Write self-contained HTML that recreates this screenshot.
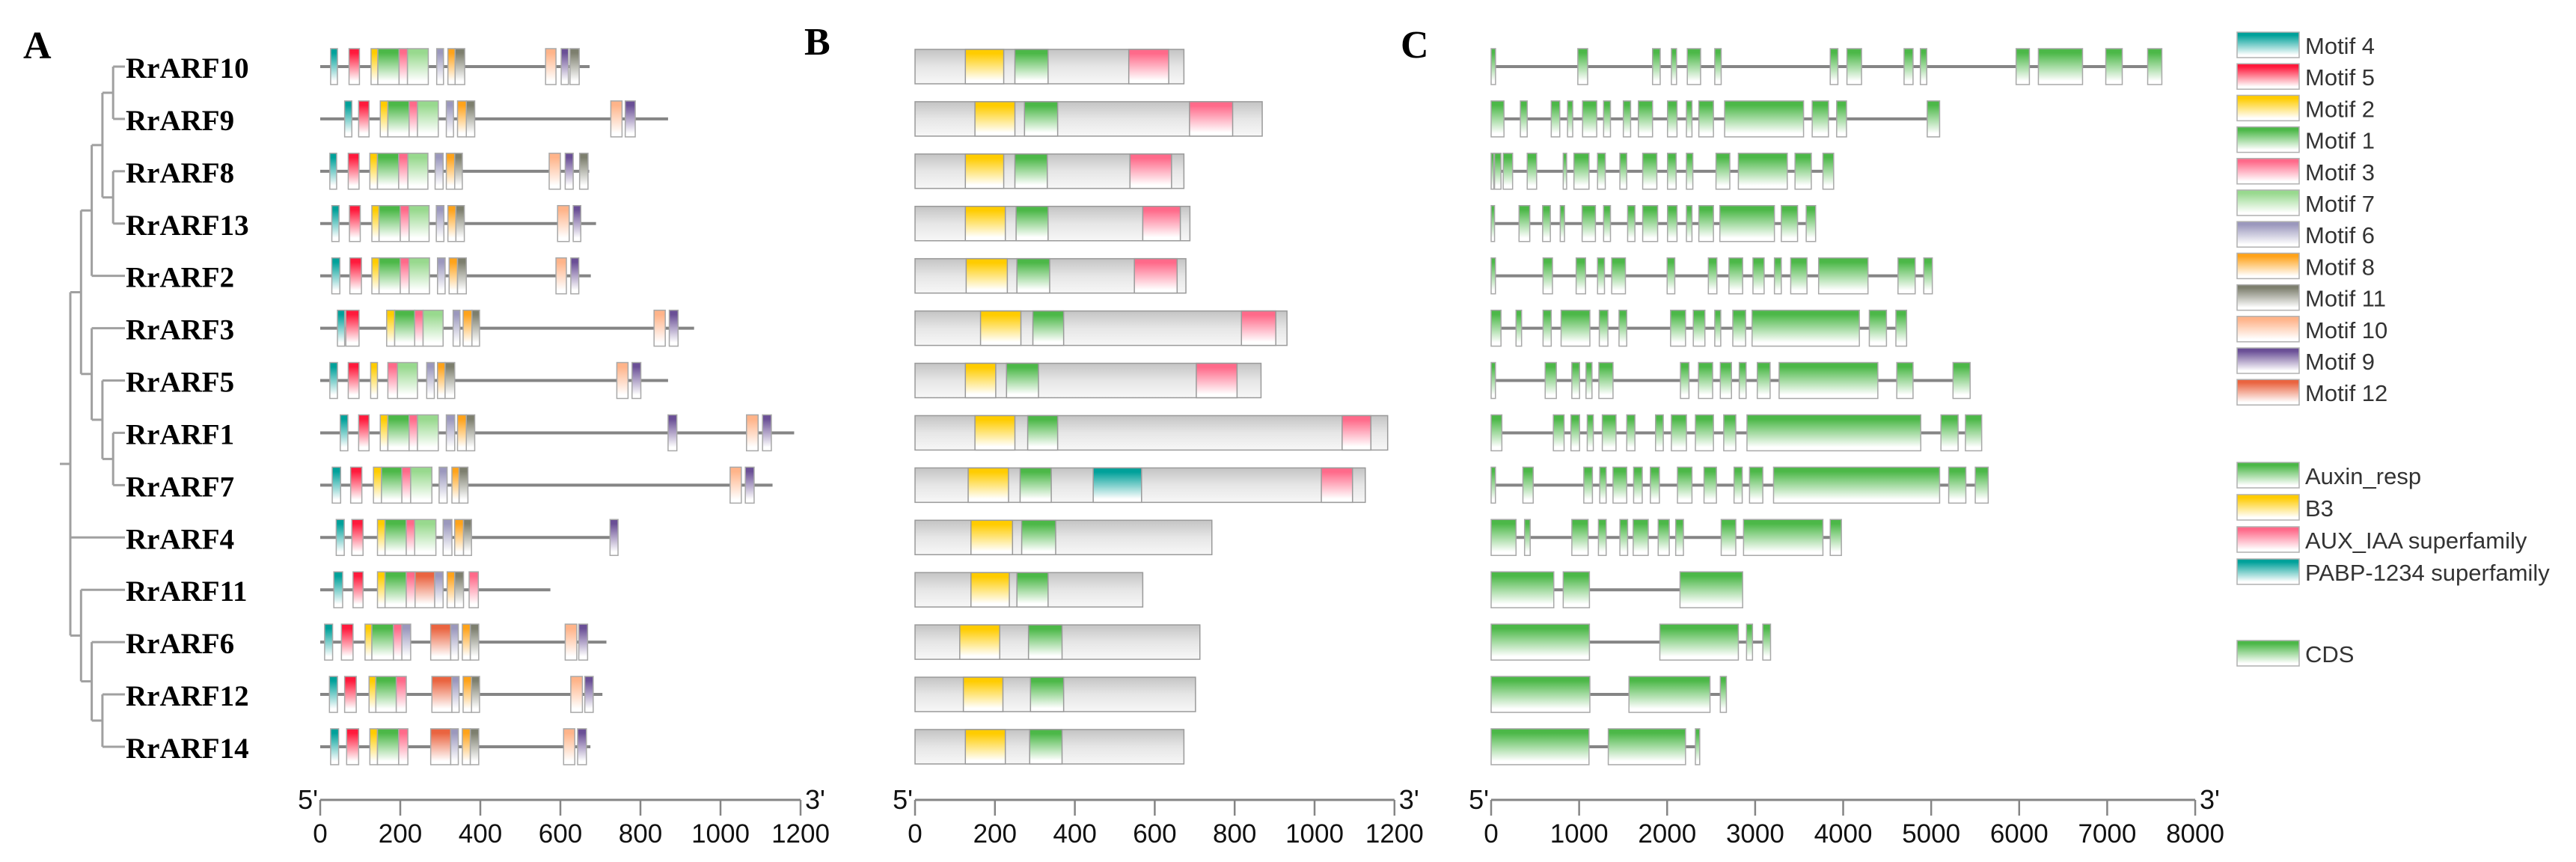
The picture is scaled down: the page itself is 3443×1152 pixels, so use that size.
<!DOCTYPE html>
<html><head><meta charset="utf-8">
<style>
html,body{margin:0;padding:0;background:#fff;}
svg{display:block;}
</style></head>
<body>
<svg id="fig" xmlns="http://www.w3.org/2000/svg" width="3443" height="1152" viewBox="0 0 3443 1152">
<defs id="defs"></defs>
<rect x="0" y="0" width="3443" height="1152" fill="#fff"/>
<g id="tree"></g>
<g id="labels"></g>
<g id="panelA"></g>
<g id="panelB"></g>
<g id="panelC"></g>
<g id="axes"></g>
<g id="legend"></g>
<text x="31" y="78" font-family="Liberation Serif, serif" font-weight="bold" font-size="52">A</text>
<text x="1075" y="73" font-family="Liberation Serif, serif" font-weight="bold" font-size="52">B</text>
<text x="1872" y="77" font-family="Liberation Serif, serif" font-weight="bold" font-size="52">C</text>
</svg>
<script>
// ---------- data ----------
const genes = ["RrARF10","RrARF9","RrARF8","RrARF13","RrARF2","RrARF3","RrARF5","RrARF1","RrARF7","RrARF4","RrARF11","RrARF6","RrARF12","RrARF14"];
const proteinLengths = [673,869,672,689,676,934,869,1184,1130,744,575,715,705,675];
const motifs = [
 [[4,26,43],[5,72,98],[2,127,144],[1,144,197],[3,197,218],[7,218,270],[6,291,308],[8,319,337],[11,337,361],[10,563,589],[9,602,620],[11,624,647]],
 [[4,61,79],[5,96,122],[2,150,169],[1,169,222],[3,222,243],[7,243,295],[6,315,333],[8,343,365],[11,365,386],[10,726,754],[9,762,787]],
 [[4,24,41],[5,70,97],[2,124,143],[1,143,196],[3,196,219],[7,219,269],[6,287,307],[8,315,336],[11,336,355],[10,572,600],[9,612,632],[11,648,669]],
 [[4,29,47],[5,73,100],[2,129,147],[1,147,200],[3,200,222],[7,222,272],[6,290,309],[8,319,339],[11,339,360],[10,593,622],[9,632,651]],
 [[4,29,49],[5,74,103],[2,129,147],[1,147,200],[3,200,222],[7,222,273],[6,293,312],[8,322,343],[11,343,365],[10,589,615],[9,626,646]],
 [[4,43,61],[5,64,97],[2,166,186],[1,186,236],[3,236,257],[7,257,307],[6,332,349],[8,357,379],[11,379,398],[10,834,862],[9,872,894]],
 [[4,24,43],[5,70,97],[2,126,143],[3,169,193],[7,193,243],[6,266,285],[8,293,312],[11,312,336],[10,741,769],[9,779,801]],
 [[4,50,69],[5,96,122],[2,150,169],[1,169,222],[3,222,243],[7,243,295],[6,315,336],[8,343,365],[11,365,386],[9,869,891],[10,1065,1094],[9,1105,1127]],
 [[4,30,51],[5,76,104],[2,133,153],[1,153,204],[3,204,226],[7,226,279],[6,297,317],[8,329,347],[11,347,369],[10,1024,1052],[9,1062,1084]],
 [[4,40,60],[5,79,107],[2,143,162],[1,162,215],[3,215,236],[7,236,289],[6,307,329],[8,336,358],[11,358,378],[9,724,744]],
 [[4,34,56],[5,82,107],[2,143,162],[1,162,215],[3,215,237],[12,237,286],[6,286,307],[8,317,336],[11,336,358],[3,372,395]],
 [[4,11,31],[5,53,82],[2,112,129],[1,129,183],[3,183,204],[6,204,226],[12,276,326],[6,326,345],[8,355,375],[11,375,396],[10,612,641],[9,646,668]],
 [[4,23,43],[5,61,90],[2,122,139],[1,139,190],[3,190,215],[12,279,329],[6,329,347],[8,357,378],[11,378,398],[10,626,655],[9,661,682]],
 [[4,26,46],[5,66,96],[2,124,143],[1,143,196],[3,196,219],[12,276,326],[6,326,345],[8,355,375],[11,375,396],[10,608,636],[9,643,665]]
];
const domainLengths = [673,869,673,688,678,931,866,1183,1127,743,570,713,702,673];
const domains = [
 [["b3",126,222],["aux",250,333],["iaa",535,635]],
 [["b3",150,250],["aux",274,357],["iaa",687,795]],
 [["b3",126,222],["aux",250,331],["iaa",538,642]],
 [["b3",126,226],["aux",253,333],["iaa",570,664]],
 [["b3",128,231],["aux",255,337],["iaa",549,656]],
 [["b3",164,265],["aux",295,372],["iaa",817,903]],
 [["b3",126,202],["aux",229,309],["iaa",704,806]],
 [["b3",150,250],["aux",282,357],["iaa",1069,1141]],
 [["b3",133,234],["aux",263,341],["pabp",446,567],["iaa",1017,1095]],
 [["b3",140,244],["aux",267,352]],
 [["b3",140,236],["aux",255,333]],
 [["b3",112,212],["aux",284,368]],
 [["b3",121,220],["aux",289,372]],
 [["b3",126,226],["aux",287,368]]
];
const geneLengths = [7621,5096,3892,3687,5013,4721,5443,5574,5648,3980,2858,3175,2673,2370];
const exons = [
 [[0,50],[985,1097],[1834,1921],[2048,2107],[2229,2380],[2541,2614],[3853,3940],[4043,4209],[4692,4794],[4877,4950],[5965,6116],[6218,6720],[6984,7171],[7460,7621]],
 [[0,146],[332,410],[683,780],[868,927],[1039,1200],[1278,1356],[1502,1585],[1673,1834],[2004,2112],[2219,2282],[2360,2526],[2653,3550],[3648,3833],[3926,4038],[4955,5096]],
 [[0,30],[39,112],[137,244],[410,517],[819,858],[941,1112],[1209,1297],[1463,1541],[1722,1883],[2004,2102],[2219,2292],[2555,2712],[2809,3365],[3453,3638],[3770,3892]],
 [[0,39],[317,439],[585,673],[785,834],[1034,1185],[1278,1356],[1551,1634],[1722,1892],[2004,2112],[2219,2282],[2360,2526],[2599,3219],[3297,3482],[3580,3687]],
 [[0,49],[590,697],[966,1073],[1209,1288],[1370,1526],[2000,2087],[2468,2565],[2702,2858],[2975,3102],[3219,3297],[3404,3589],[3721,4282],[4623,4818],[4916,5013]],
 [[0,112],[283,346],[590,683],[795,1122],[1229,1327],[1453,1541],[2039,2209],[2297,2429],[2541,2609],[2746,2892],[2965,4184],[4297,4492],[4599,4721]],
 [[0,49],[614,741],[917,1005],[1078,1146],[1224,1385],[2151,2248],[2356,2517],[2604,2731],[2819,2897],[3024,3170],[3272,4394],[4609,4794],[5248,5443]],
 [[0,122],[707,829],[907,1005],[1092,1161],[1263,1419],[1541,1634],[1868,1956],[2048,2219],[2321,2526],[2643,2780],[2907,4882],[5111,5306],[5389,5574]],
 [[0,49],[361,478],[1053,1151],[1234,1307],[1385,1541],[1619,1717],[1809,1912],[2117,2282],[2419,2560],[2760,2853],[2936,3087],[3209,5096],[5199,5394],[5501,5648]],
 [[0,283],[380,444],[917,1102],[1219,1307],[1463,1551],[1614,1785],[1898,2024],[2097,2185],[2614,2780],[2868,3770],[3853,3980]],
 [[0,712],[819,1117],[2146,2858]],
 [[0,1117],[1917,2809],[2902,2970],[3087,3175]],
 [[0,1122],[1566,2487],[2604,2673]],
 [[0,1112],[1331,2209],[2321,2370]]
];
const ticksAA = [0,200,400,600,800,1000,1200];
const ticksBP = [0,1000,2000,3000,4000,5000,6000,7000,8000];
const motifLegendOrder = [4,5,2,1,3,7,6,8,11,10,9,12];
const domainLegendOrder = ["aux","b3","iaa","pabp"];
const domainNames = {aux:"Auxin_resp",b3:"B3",iaa:"AUX_IAA superfamily",pabp:"PABP-1234 superfamily"};
// tree (leaf indices into genes)
const tree = [[[[[0,1],[2,3]],4],[5,[6,[7,8]]]],9,[10,[11,[12,13]]]];

// ---------- styles ----------
const motifColor = {4:"#00a19a",5:"#ff1a3c",2:"#ffcc00",1:"#4cb848",3:"#ff6a8a",7:"#98d98e",6:"#9b98bd",8:"#ffa31a",11:"#7d7f6e",10:"#ffb48a",9:"#6a4f96",12:"#ea6440"};
const domColor = {aux:"#4cb848",b3:"#ffcc00",iaa:"#ff6a8a",pabp:"#00a19a"};
const NS="http://www.w3.org/2000/svg";
const defs=document.getElementById('defs');
function grad(id,c){
  const g=document.createElementNS(NS,'linearGradient');
  g.setAttribute('id',id);g.setAttribute('x1','0');g.setAttribute('y1','0');g.setAttribute('x2','0');g.setAttribute('y2','1');
  [[0,c,1],[0.12,c,1],[0.9,'#ffffff',1],[1,'#ffffff',1]].forEach(s=>{const st=document.createElementNS(NS,'stop');st.setAttribute('offset',s[0]);st.setAttribute('stop-color',s[1]);g.appendChild(st);});
  defs.appendChild(g);
}
Object.keys(motifColor).forEach(k=>grad('gm'+k,motifColor[k]));
Object.keys(domColor).forEach(k=>grad('gd'+k,domColor[k]));
(function(){const g=document.createElementNS(NS,'linearGradient');g.setAttribute('id','ggray');g.setAttribute('x1','0');g.setAttribute('y1','0');g.setAttribute('x2','0');g.setAttribute('y2','1');
 [[0,'#c4c4c4'],[0.5,'#e6e6e6'],[1,'#f7f7f7']].forEach(s=>{const st=document.createElementNS(NS,'stop');st.setAttribute('offset',s[0]);st.setAttribute('stop-color',s[1]);g.appendChild(st);});defs.appendChild(g);})();

function el(tag,attrs,parent){const e=document.createElementNS(NS,tag);for(const k in attrs)e.setAttribute(k,attrs[k]);parent.appendChild(e);return e;}

// ---------- scales ----------
const rowY = i => 89 + i*69.92;
const xA = v => 428 + v*0.535;
const xB = v => 1223 + v*0.534;
const xC = v => 1993 + v*0.11763;
const BH = 24;

// ---------- tree ----------
const gT=document.getElementById('tree');
const depthX = d => 94 + d*14.3;
function line(g,x1,y1,x2,y2,name){const l=el('line',{x1:x1,y1:y1,x2:x2,y2:y2,stroke:'#a0a0a0','stroke-width':3},g);


return l;}
function drawNode(n,d){
  if(typeof n==='number'){return rowY(n);}
  const ys=n.map(c=>{const y=drawNode(c,d+1);
    if(typeof c==='number') line(gT,depthX(d),y,167,y,'tree-leaf-branch');
    else line(gT,depthX(d),y,depthX(d+1),y,'tree-branch');
    return y;});
  const y0=Math.min(...ys),y1=Math.max(...ys);
  line(gT,depthX(d),y0,depthX(d),y1,'tree-node');
  return (y0+y1)/2;
}
const rootY=drawNode(tree,0);
line(gT,80,rootY,depthX(0),rootY,'tree-root');

// ---------- labels ----------
const gL=document.getElementById('labels');
genes.forEach((g,i)=>{const t=el('text',{x:168,y:rowY(i)+15,'font-family':'Liberation Serif, serif','font-weight':'bold','font-size':39,fill:'#000'},gL);t.textContent=g;

});

// ---------- panel A ----------
const gA=document.getElementById('panelA');
genes.forEach((g,i)=>{
  const y=rowY(i);
  const bl=el('line',{x1:xA(0),y1:y,x2:xA(proteinLengths[i]),y2:y,stroke:'#858585','stroke-width':4},gA);
  
  
  motifs[i].forEach(m=>{
    const r=el('rect',{x:xA(m[1]),y:y-BH,width:xA(m[2])-xA(m[1]),height:BH*2,fill:'url(#gm'+m[0]+')',stroke:'#a8a8a8','stroke-width':1.5},gA);
    
    
  });
});

// ---------- panel B ----------
const gB=document.getElementById('panelB');
genes.forEach((g,i)=>{
  const y=rowY(i);
  const r=el('rect',{x:xB(0),y:y-23,width:xB(domainLengths[i])-xB(0),height:46,fill:'url(#ggray)',stroke:'#9a9a9a','stroke-width':1.5},gB);
  
  
  domains[i].forEach(d=>{
    const b=el('rect',{x:xB(d[1]),y:y-23,width:xB(d[2])-xB(d[1]),height:46,fill:'url(#gd'+d[0]+')',stroke:'#9a9a9a','stroke-width':1.5},gB);
    
    
  });
});

// ---------- panel C ----------
const gC=document.getElementById('panelC');
genes.forEach((g,i)=>{
  const y=rowY(i);
  const bl=el('line',{x1:xC(0),y1:y,x2:xC(geneLengths[i]),y2:y,stroke:'#858585','stroke-width':4},gC);
  
  
  exons[i].forEach(e=>{
    const r=el('rect',{x:xC(e[0]),y:y-BH,width:Math.max(2,xC(e[1])-xC(e[0])),height:BH*2,fill:'url(#gd'+'aux'+')',stroke:'#a8a8a8','stroke-width':1.5},gC);
    
    
  });
});

// ---------- axes ----------
const gX=document.getElementById('axes');
function axis(sc,ticks,x0,x1){
  const ay=1069;
  const l=el('line',{x1:x0,y1:ay,x2:x1,y2:ay,stroke:'#858585','stroke-width':3},gX);
  
  
  ticks.forEach(t=>{
    const tk=el('line',{x1:sc(t),y1:ay,x2:sc(t),y2:ay+21,stroke:'#858585','stroke-width':2.5},gX);
    
    
    const tx=el('text',{x:sc(t),y:ay+57,'text-anchor':'middle','font-family':'Liberation Sans, sans-serif','font-size':35,fill:'#111'},gX);
    tx.textContent=t;
    
    
  });
  const a=el('text',{x:x0-3,y:ay+12,'text-anchor':'end','font-family':'Liberation Sans, sans-serif','font-size':36,fill:'#111'},gX);a.textContent="5'";
  
  
  const b=el('text',{x:x1+6,y:ay+12,'font-family':'Liberation Sans, sans-serif','font-size':36,fill:'#111'},gX);b.textContent="3'";
  
  
}
axis(xA,ticksAA,xA(0),xA(1200));
axis(xB,ticksAA,xB(0),xB(1200));
axis(xC,ticksBP,xC(0),xC(8000));

// ---------- legend ----------
const gG=document.getElementById('legend');
function legendItem(y,fillId,label,name){
  const r=el('rect',{x:2990,y:y,width:83,height:34,fill:'url(#'+fillId+')',stroke:'#b0b0b0','stroke-width':1.5},gG);
  
  
  const t=el('text',{x:3081,y:y+29,'font-family':'Liberation Sans, sans-serif','font-size':31,fill:'#333'},gG);
  t.textContent=label;
  
  
}
motifLegendOrder.forEach((m,k)=>legendItem(43+k*42.2,'gm'+m,'Motif '+m,'legend-motif-'+m));
domainLegendOrder.forEach((d,k)=>legendItem(618+k*43,'gd'+d,domainNames[d],'legend-'+d));
legendItem(856,'gdaux','CDS','legend-cds');
</script>
</body></html>
